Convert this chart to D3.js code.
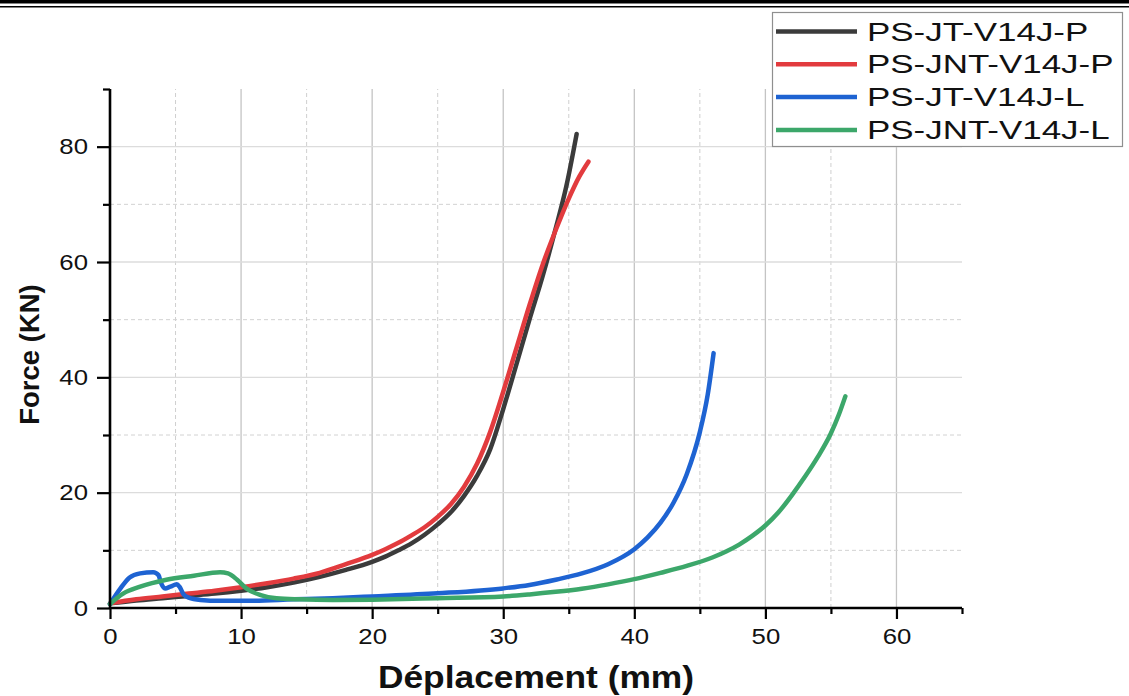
<!DOCTYPE html>
<html>
<head>
<meta charset="utf-8">
<script src="https://cdn.jsdelivr.net/npm/d3@7"></script>
<style>
  html, body { margin: 0; padding: 0; background: #fff; }
  svg { display: block; font-family: "Liberation Sans", Arial, sans-serif; }
</style>
</head>
<body>
<svg id="chart" width="1129" height="696"></svg>
<script>
// Force–displacement curves of four specimens
const seriesNames = ["PS-JT-V14J-P", "PS-JNT-V14J-P", "PS-JT-V14J-L", "PS-JNT-V14J-L"];
const seriesColors = ["#3b3b3b", "#e23b3e", "#1e63d2", "#3ca76a"];

const jtP_x = [0, 2, 4, 6, 8, 10, 12, 14, 16, 18, 20, 21, 22, 23, 24, 25, 26, 27, 28, 29, 30, 31, 32, 33, 34, 34.8, 35.6];
const jtP_y = [0.8, 1.3, 1.7, 2.1, 2.5, 3.0, 3.6, 4.4, 5.4, 6.6, 8.0, 8.9, 10.0, 11.2, 12.7, 14.5, 16.6, 19.4, 22.9, 27.5, 34.5, 42.2, 50.0, 57.5, 65.8, 73.0, 82.2];

const jntP_x = [0, 2, 4, 6, 8, 10, 12, 14, 16, 18, 20, 21, 22, 23, 24, 25, 26, 27, 28, 29, 30, 31, 32, 33, 34, 35, 35.8, 36.5];
const jntP_y = [0.8, 1.5, 2.0, 2.5, 3.0, 3.6, 4.3, 5.1, 6.1, 7.6, 9.2, 10.2, 11.3, 12.6, 14.0, 15.8, 18.0, 21.0, 25.0, 30.5, 37.5, 45.0, 52.5, 59.5, 65.5, 71.0, 74.8, 77.4];

const jtL_x = [0, 0.8, 1.5, 2.3, 3.3, 3.7, 3.9, 4.2, 4.6, 5.1, 5.3, 5.6, 6.0, 6.9, 8.4, 10.7, 14, 17, 20, 25, 30, 32, 34, 36, 38, 40, 41, 42, 43, 44, 45, 45.6, 46.05];
const jtL_y = [0.7, 3.4, 5.3, 6.0, 6.2, 5.7, 4.3, 3.4, 3.7, 4.1, 3.7, 2.4, 1.8, 1.4, 1.25, 1.25, 1.5, 1.7, 2.0, 2.55, 3.4, 4.0, 4.9, 6.0, 7.6, 10.2, 12.2, 14.8, 18.3, 23.2, 30.5, 37.0, 44.2];

const jntL_x = [0, 1.0, 2.3, 4.3, 6.4, 8.4, 9.0, 9.7, 10.4, 11.5, 12.7, 14.5, 17, 20, 25, 30, 32, 34, 36, 38, 40, 42, 44, 46, 47, 48, 49, 50, 51, 52, 53, 54, 55, 55.6, 56.1];
const jntL_y = [0.7, 2.5, 3.7, 4.9, 5.6, 6.2, 6.0, 4.9, 3.4, 2.25, 1.7, 1.5, 1.4, 1.45, 1.7, 2.0, 2.35, 2.8, 3.35, 4.1, 5.0, 6.1, 7.3, 8.8, 9.8, 11.0, 12.5, 14.3, 16.6, 19.5, 22.7, 26.2, 30.3, 33.5, 36.7];

const xMajorTicks = [0, 10, 20, 30, 40, 50, 60];
const xMinorTicks = [5, 15, 25, 35, 45, 55, 65];
const yMajorTicks = [0, 20, 40, 60, 80];
const yMinorTicks = [10, 30, 50, 70, 90];
const xTitle = "Déplacement (mm)";
const yTitle = "Force (KN)";

const seriesX = [jtP_x, jntP_x, jtL_x, jntL_x];
const seriesY = [jtP_y, jntP_y, jtL_y, jntL_y];
const series = seriesNames.map((name, i) => ({
  name, color: seriesColors[i],
  points: seriesX[i].map((x, j) => ({ x, y: seriesY[i][j] }))
}));

const svg = d3.select("#chart");
const W = 1129, H = 696;
const margin = { left: 110, right: 167, top: 89, bottom: 88 };

const x = d3.scaleLinear().domain([0, 65]).range([margin.left, W - margin.right]);
const y = d3.scaleLinear().domain([0, 90]).range([H - margin.bottom, margin.top]);

// double rule across the top of the page
svg.append("rect").attr("x", 0).attr("y", 0).attr("width", W).attr("height", 3.5).attr("fill", "#000");
svg.append("rect").attr("x", 0).attr("y", 6).attr("width", W).attr("height", 1.5).attr("fill", "#000");

// grid
const grid = svg.append("g");
grid.selectAll(".vmaj").data(xMajorTicks.filter(d => d > 0)).join("line")
  .attr("x1", d => x(d)).attr("x2", d => x(d)).attr("y1", y(0)).attr("y2", y(90))
  .attr("stroke", "#c4c4c4").attr("stroke-width", 1.3);
grid.selectAll(".vmin").data(xMinorTicks.filter(d => d < 65)).join("line")
  .attr("x1", d => x(d)).attr("x2", d => x(d)).attr("y1", y(0)).attr("y2", y(90))
  .attr("stroke", "#cfcfcf").attr("stroke-width", 1).attr("stroke-dasharray", "4,3");
grid.selectAll(".hmaj").data(yMajorTicks.filter(d => d > 0)).join("line")
  .attr("x1", x(0)).attr("x2", x(65)).attr("y1", d => y(d)).attr("y2", d => y(d))
  .attr("stroke", "#dcdcdc").attr("stroke-width", 1.3);
grid.selectAll(".hmin").data(yMinorTicks.filter(d => d < 90)).join("line")
  .attr("x1", x(0)).attr("x2", x(65)).attr("y1", d => y(d)).attr("y2", d => y(d))
  .attr("stroke", "#d2d2d2").attr("stroke-width", 1).attr("stroke-dasharray", "4,3");

// curves
const line = d3.line().x(d => x(d.x)).y(d => y(d.y)).curve(d3.curveMonotoneX);
svg.append("g").selectAll("path").data(series).join("path")
  .attr("d", d => line(d.points))
  .attr("fill", "none").attr("stroke", d => d.color)
  .attr("stroke-width", 4.5).attr("stroke-linecap", "round").attr("stroke-linejoin", "round");

// axes
const tickFont = 22, stretch = 1.17;
const xAxisMajor = d3.axisBottom(x).tickValues(xMajorTicks).tickSize(11).tickPadding(9).tickFormat(d3.format("d"));
const xAxisMinor = d3.axisBottom(x).tickValues(xMinorTicks).tickSize(6).tickFormat("");
const yAxisMajor = d3.axisLeft(y).tickValues(yMajorTicks).tickSize(13).tickPadding(9).tickFormat(d3.format("d"));
const yAxisMinor = d3.axisLeft(y).tickValues(yMinorTicks).tickSize(7).tickFormat("");

function styleAxis(g) {
  g.select(".domain").attr("stroke", "#000").attr("stroke-width", 2.6);
  g.selectAll(".tick line").attr("stroke", "#000").attr("stroke-width", 2.2);
  g.selectAll(".tick text").attr("fill", "#111").attr("font-size", tickFont)
    .attr("font-family", "'Liberation Sans', Arial, sans-serif");
}

const gxMin = svg.append("g").attr("transform", `translate(0,${y(0)})`).call(xAxisMinor).call(styleAxis);
const gx = svg.append("g").attr("transform", `translate(0,${y(0)})`).call(xAxisMajor).call(styleAxis);
gx.select(".domain").remove();
gxMin.select(".domain").attr("d", `M${x(0)},0H${x(65)}`);
gx.selectAll(".tick text").attr("transform", `scale(${stretch},1)`).attr("x", 0);

const gyMin = svg.append("g").attr("transform", `translate(${x(0)},0)`).call(yAxisMinor).call(styleAxis);
const gy = svg.append("g").attr("transform", `translate(${x(0)},0)`).call(yAxisMajor).call(styleAxis);
gy.select(".domain").remove();
gyMin.select(".domain").attr("d", `M0,${y(0)}V${y(90)}`);
gy.selectAll(".tick text").each(function () {
  const t = d3.select(this);
  const xx = +t.attr("x");
  t.attr("transform", `scale(${stretch},1)`).attr("x", xx / stretch);
});

// axis titles
svg.append("text")
  .attr("transform", `translate(${(x(0) + x(65)) / 2},688) scale(1.14,1)`)
  .attr("text-anchor", "middle").attr("font-weight", "bold").attr("font-size", 31)
  .attr("fill", "#111").text(xTitle);
svg.append("text")
  .attr("transform", `translate(39,${(y(0) + y(90)) / 2 + 6}) rotate(-90)`)
  .attr("text-anchor", "middle").attr("font-weight", "bold").attr("font-size", 27.5)
  .attr("fill", "#111").text(yTitle);

// legend
const legend = svg.append("g");
legend.append("rect").attr("x", 772.5).attr("y", 12.5).attr("width", 350).attr("height", 134)
  .attr("fill", "#fff").attr("stroke", "#8f8f8f").attr("stroke-width", 1.2);
const rows = legend.selectAll(".row").data(series).join("g")
  .attr("transform", (d, i) => `translate(0,${31.5 + i * 32.8})`);
rows.append("line").attr("x1", 776).attr("x2", 857).attr("y1", 0).attr("y2", 0)
  .attr("stroke", d => d.color).attr("stroke-width", 4.5);
rows.append("text")
  .attr("transform", "translate(867,9) scale(1.37,1)")
  .attr("font-size", 25.5).attr("fill", "#111").text(d => d.name);
</script>
</body>
</html>
